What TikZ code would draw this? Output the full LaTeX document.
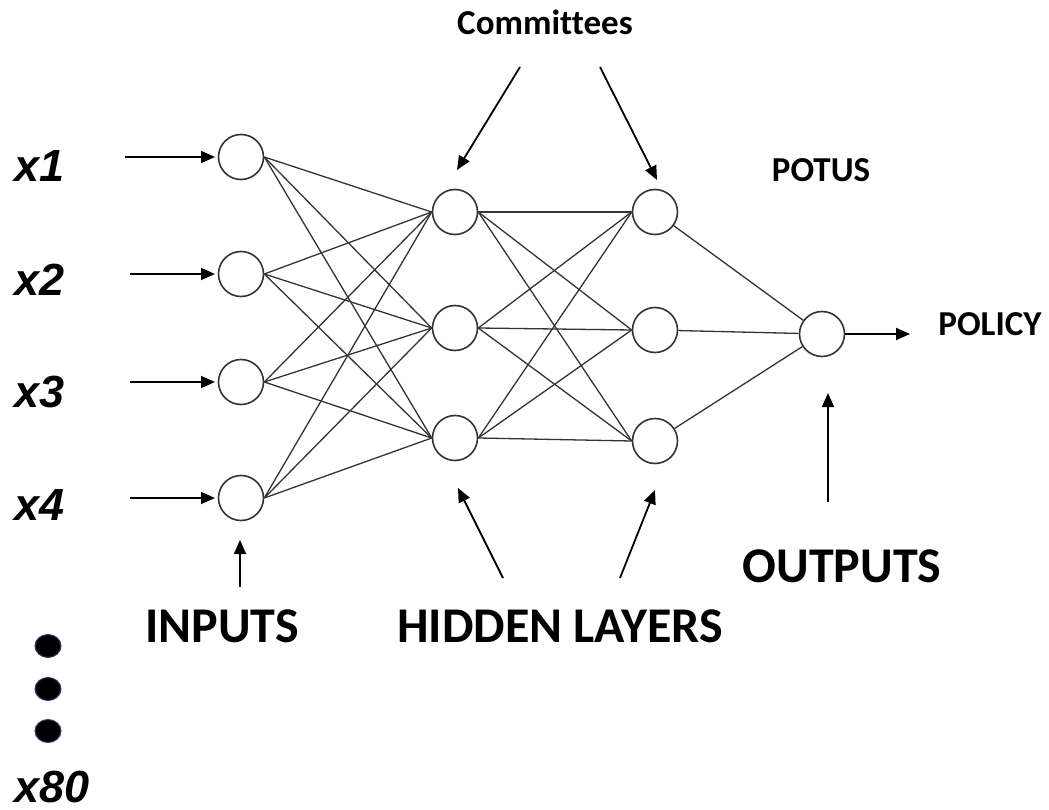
\documentclass[tikz,border=0pt]{standalone}
\usepackage{fontspec}
\setmainfont{Carlito}[Ligatures={NoCommon}]
\newfontfamily\xfont{Liberation Sans}
\usetikzlibrary{arrows.meta,shapes.geometric}
\definecolor{edgegray}{HTML}{333333}
\definecolor{dotblue}{HTML}{2F3F6F}
\tikzset{
  neuron/.style={circle,draw=edgegray,line width=1.6pt,minimum size=45pt,inner sep=0pt,fill=white},
  link/.style={draw=edgegray,line width=1.3pt},
  pointer/.style={draw=black,line width=1.8pt,-{Triangle[length=14pt,width=12pt]}},
  xlab/.style={anchor=base west,inner sep=0pt,font=\xfont\bfseries\itshape\fontsize{45}{45}\selectfont},
  biglab/.style={anchor=base,inner sep=0pt,font=\bfseries\fontsize{50}{50}\selectfont},
  smalllab/.style={anchor=base,inner sep=0pt,font=\bfseries\fontsize{35}{35}\selectfont},
  vdot/.style={ellipse,draw=dotblue,line width=1pt,fill=black,minimum width=26pt,minimum height=23pt,inner sep=0pt}
}
\begin{document}
\begin{tikzpicture}[x=1pt,y=-1pt]
\useasboundingbox (0,0) rectangle (1049,810);
% neurons
\node[neuron] (i1) at (241,157) {};
\node[neuron] (i2) at (241,274) {};
\node[neuron] (i3) at (241,382) {};
\node[neuron] (i4) at (241,498) {};
\node[neuron] (ha) at (455,212) {};
\node[neuron] (hb) at (455,328) {};
\node[neuron] (hc) at (455,438) {};
\node[neuron] (ga) at (655,212) {};
\node[neuron] (gb) at (655,330) {};
\node[neuron] (gc) at (655,441) {};
\node[neuron] (o) at (822,334) {};
% links
\foreach \a in {i1,i2,i3,i4}
  \foreach \b in {ha,hb,hc}
    \draw[link] (\a.east) -- (\b.west);
\foreach \a in {ha,hb,hc}
  \foreach \b in {ga,gb,gc}
    \draw[link] (\a.east) -- (\b.west);
\foreach \a in {ga,gb,gc}
  \draw[link] (\a) -- (o);
% x labels
\node[xlab] (x1) at (14,182) {x1};
\node[xlab] (x2) at (14,295) {x2};
\node[xlab] (x3) at (14,407) {x3};
\node[xlab] (x4) at (14,520) {x4};
\node[xlab] (x80) at (14,802) {x80};
% input arrows
\coordinate (s1) at (125,157);
\coordinate (s2) at (130,274);
\coordinate (s3) at (130,382);
\coordinate (s4) at (130,498);
\draw[pointer,shorten >=26pt] (s1) -- (i1.center);
\draw[pointer,shorten >=26pt] (s2) -- (i2.center);
\draw[pointer,shorten >=26pt] (s3) -- (i3.center);
\draw[pointer,shorten >=26pt] (s4) -- (i4.center);
% dots
\node[vdot] (d1) at (48,646) {};
\node[vdot] (d2) at (48,689) {};
\node[vdot] (d3) at (48,731) {};
% labels
\node[smalllab] (com) at (545,35) {Committees};
\node[smalllab] (potus) at (821,182) {POTUS};
\node[smalllab] (policy) at (990,335) {POLICY};
\node[biglab] (inputs) at (222,642) {INPUTS};
\node[biglab] (hidden) at (560,642) {HIDDEN LAYERS};
\node[biglab] (outputs) at (842,582) {OUTPUTS};
% annotation arrows
\coordinate (cl0) at (520,67);  \coordinate (cl1) at (457,170);
\coordinate (cr0) at (600,67);  \coordinate (cr1) at (657,180);
\draw[pointer] (cl0) -- (cl1);
\draw[pointer] (cr0) -- (cr1);
\coordinate (hl0) at (503,578); \coordinate (hl1) at (458,488);
\coordinate (hr0) at (620,578); \coordinate (hr1) at (655,490);
\draw[pointer] (hl0) -- (hl1);
\draw[pointer] (hr0) -- (hr1);
\coordinate (in0) at (240,587); \coordinate (in1) at (240,540);
\draw[pointer] (in0) -- (in1);
\coordinate (ou0) at (828,502); \coordinate (ou1) at (828,393);
\draw[pointer] (ou0) -- (ou1);
\coordinate (po1) at (910,334);
\draw[pointer] (o) -- (po1);
\end{tikzpicture}
\end{document}
